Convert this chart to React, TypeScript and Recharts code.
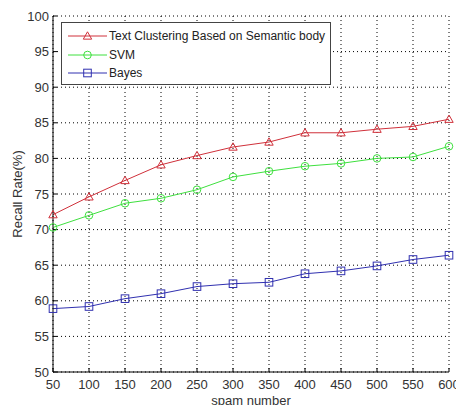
import React from 'react';
import { LineChart, Line, XAxis, YAxis, CartesianGrid } from 'recharts';

const spamNumbers = [50, 100, 150, 200, 250, 300, 350, 400, 450, 500, 550, 600];
const semanticRecall = [72.1, 74.6, 76.9, 79.1, 80.4, 81.6, 82.3, 83.6, 83.6, 84.1, 84.5, 85.5];
const svmRecall = [70.3, 72.0, 73.7, 74.4, 75.6, 77.4, 78.2, 78.9, 79.3, 80.0, 80.2, 81.7];
const bayesRecall = [58.9, 59.2, 60.3, 61.0, 62.0, 62.4, 62.6, 63.8, 64.2, 64.9, 65.8, 66.4];
const xTicks = [50, 100, 150, 200, 250, 300, 350, 400, 450, 500, 550, 600];
const yTicks = [50, 55, 60, 65, 70, 75, 80, 85, 90, 95, 100];
const seriesNames = ['Text Clustering Based on Semantic body', 'SVM', 'Bayes'];

const data = spamNumbers.map((x, i) => ({
  x,
  semantic: semanticRecall[i],
  svm: svmRecall[i],
  bayes: bayesRecall[i],
}));

const RED = '#d0303a';
const GREEN = '#3ee03e';
const BLUE = '#3030b0';
const FONT = '"Liberation Sans", Arial, sans-serif';

const Marker = ({ shape, color, cx, cy }: { shape: string; color: string; cx: number; cy: number }) => {
  if (shape === 'tri') {
    const r = 4.2;
    return (
      <polygon
        points={`${cx},${cy - r} ${cx - r},${cy + r * 0.75} ${cx + r},${cy + r * 0.75}`}
        fill="none"
        stroke={color}
        strokeWidth={1}
      />
    );
  }
  if (shape === 'circle') {
    return <circle cx={cx} cy={cy} r={3.8} fill="none" stroke={color} strokeWidth={1} />;
  }
  return <rect x={cx - 3.8} y={cy - 3.8} width={7.6} height={7.6} fill="none" stroke={color} strokeWidth={1} />;
};

const makeDot = (shape: string, color: string) => (props: any) => {
  const { cx, cy, index } = props;
  if (cx == null || cy == null) return <g key={index} />;
  return <Marker key={index} shape={shape} color={color} cx={cx} cy={cy} />;
};

const legendItems = [
  { name: seriesNames[0], color: RED, shape: 'tri' },
  { name: seriesNames[1], color: GREEN, shape: 'circle' },
  { name: seriesNames[2], color: BLUE, shape: 'square' },
];

const LegendBox = () => (
  <div
    style={{
      position: 'absolute',
      left: 61,
      top: 22,
      width: 270,
      height: 63,
      border: '1.5px solid #444',
      background: '#fff',
      fontFamily: FONT,
      fontSize: 12,
      color: '#222',
      boxSizing: 'border-box',
      paddingTop: 4,
      whiteSpace: 'nowrap',
    }}
  >
    {legendItems.map((it) => (
      <div key={it.name} style={{ display: 'flex', alignItems: 'center', height: 18.5 }}>
        <svg width={46} height={14} style={{ marginLeft: 6, flex: 'none' }}>
          <line x1={0} y1={7} x2={39} y2={7} stroke={it.color} strokeWidth={1} />
          <Marker shape={it.shape} color={it.color} cx={19.5} cy={7} />
        </svg>
        <span style={{ marginLeft: -5 }}>{it.name}</span>
      </div>
    ))}
  </div>
);

const App = () => (
  <div style={{ position: 'absolute', left: 0, top: 0, width: 456, height: 405, background: '#fff', overflow: 'hidden' }}>
    <LineChart
      width={456}
      height={405}
      data={data}
      margin={{ top: 16, right: 7, bottom: 13, left: 0 }}
      style={{ fontFamily: FONT }}
    >
      <CartesianGrid stroke="#000" strokeDasharray="1 3" strokeWidth={1} />
      <XAxis
        dataKey="x"
        type="number"
        domain={[50, 600]}
        ticks={xTicks}
        interval={0}
        height={20}
        tickSize={-4}
        tickLine={{ stroke: '#000' }}
        axisLine={{ stroke: '#000', strokeWidth: 1 }}
        tick={{ fill: '#333', fontSize: 13 }}
        tickMargin={12}
        label={{ value: 'spam number', position: 'insideBottom', offset: -13, fill: '#333', fontSize: 13 }}
      />
      <YAxis
        type="number"
        domain={[50, 100]}
        ticks={yTicks}
        interval={0}
        width={53}
        tickSize={-4}
        tickLine={{ stroke: '#000' }}
        axisLine={{ stroke: '#000', strokeWidth: 1 }}
        tick={{ fill: '#333', fontSize: 13 }}
        tickMargin={8}
        label={{ value: 'Recall Rate(%)', angle: -90, position: 'insideLeft', offset: 17, style: { textAnchor: 'middle' }, fill: '#333', fontSize: 13 }}
      />
      <Line
        dataKey="semantic"
        name={seriesNames[0]}
        stroke={RED}
        strokeWidth={1}
        dot={makeDot('tri', RED)}
        activeDot={false}
        isAnimationActive={false}
      />
      <Line
        dataKey="svm"
        name={seriesNames[1]}
        stroke={GREEN}
        strokeWidth={1}
        dot={makeDot('circle', GREEN)}
        activeDot={false}
        isAnimationActive={false}
      />
      <Line
        dataKey="bayes"
        name={seriesNames[2]}
        stroke={BLUE}
        strokeWidth={1}
        dot={makeDot('square', BLUE)}
        activeDot={false}
        isAnimationActive={false}
      />
    </LineChart>
    <LegendBox />
  </div>
);

export default App;
